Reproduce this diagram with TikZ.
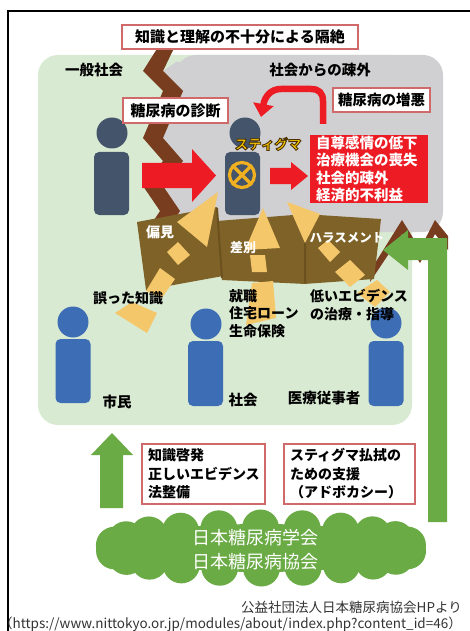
\documentclass[tikz,border=0pt]{standalone}
\usepackage{fontspec}
\setmainfont{Noto Sans CJK JP}
\usetikzlibrary{arrows.meta}

\definecolor{panelgreen}{HTML}{D9EAD3}
\definecolor{panelgray}{HTML}{D0D0D2}
\definecolor{zigbrown}{HTML}{783C1E}
\definecolor{wallbrown}{HTML}{7E6228}
\definecolor{walldark}{HTML}{6A511E}
\definecolor{shard}{HTML}{F4C76B}
\definecolor{slate}{HTML}{44546A}
\definecolor{bluep}{HTML}{3D6DB5}
\definecolor{alarm}{HTML}{ED1C24}
\definecolor{boxedge}{HTML}{D06A6A}
\definecolor{leaf}{HTML}{6AAB46}
\definecolor{stig}{HTML}{F7C600}
\definecolor{ringorange}{HTML}{F0B020}
\definecolor{captiongray}{HTML}{333333}

% text filled with the current colour and edged in dark brown
\newcommand\strokedtext[1]{\special{pdf:literal direct 2 Tr 0.9 w 0.29 0.19 0 RG}#1\special{pdf:literal direct 0 Tr}}

\tikzset{
  lbl/.style={inner sep=0pt, font=\bfseries\fontsize{14}{17.5}\selectfont},
  walllbl/.style={inner sep=0pt, text=white, font=\bfseries\fontsize{13}{16}\selectfont},
  tagbox/.style={draw=boxedge, line width=1.1pt, fill=white, inner sep=0pt,
    font=\bfseries\fontsize{15}{18}\selectfont},
  notebox/.style={draw=boxedge, line width=1.1pt, fill=white, inner xsep=6pt,
    inner ysep=0pt, align=left, font=\bfseries\fontsize{14}{18.5}\selectfont},
  torso/.style={rounded corners=5pt, inner sep=0pt, minimum width=35pt, minimum height=63pt},
  headball/.style={circle, inner sep=0pt, minimum size=31pt},
  shardfill/.style={fill=shard},
  blockarrow/.style={fill=leaf},
}

\begin{document}
\begin{tikzpicture}[x=1pt,y=-1pt]
\useasboundingbox (0,0) rectangle (470,631);

% outer frame
\draw[line width=2.2pt] (472,11) -- (8,11) -- (8,633);

% panels
\fill[panelgreen, rounded corners=20pt] (38,55) rectangle (412,425);
\fill[panelgray, rounded corners=20pt] (176,55) rectangle (443,232);
\fill[panelgray] (163,71) -- (176,62) -- (190,62) -- (190,228) -- (165,228) -- (170,211)
  -- (153,186) -- (173,161) -- (153,138) -- (173,91) -- cycle;

% vertical rupture line
\fill[zigbrown] (160,44) -- (143,71) -- (163,91) -- (143,138) -- (163,161) -- (143,186)
  -- (160,211) -- (150,226) -- (170,226) -- (180,211) -- (163,186) -- (183,161)
  -- (163,138) -- (183,91) -- (163,71) -- (176,44) -- cycle;

% horizontal rupture line
\fill[zigbrown] (448,236) -- (435,220) -- (420,249) -- (402,220) -- (372,268)
  -- (370,282) -- (402,234) -- (420,263) -- (435,234) -- (448,250) -- cycle;

% people in the alienated area
\node[headball, fill=slate] (p1head) at (112,133) {};
\node[torso, fill=slate] (p1body) at (111.5,183.5) {};
\node[headball, fill=slate] (p2head) at (245,133) {};
\node[torso, fill=slate] (p2body) at (242.5,183.5) {};
\node[circle, draw=ringorange, line width=3.2pt, minimum size=25pt, inner sep=0pt] (ring) at (242,175) {};
\draw[ringorange, line width=3.2pt] (ring.45) -- (ring.225) (ring.135) -- (ring.315);

% red arrows
\fill[alarm] (142,163) -- (192,163) -- (192,149) -- (216,175.5) -- (192,202) -- (192,188)
  -- (142,188) -- cycle;
\fill[alarm] (270,168) -- (291,168) -- (291,162) -- (308,176) -- (291,190) -- (291,184)
  -- (270,184) -- cycle;
\draw[alarm, line width=6.5pt, -{Triangle[length=13pt,width=20pt]}]
  (323,124) -- (323,101) .. controls (323,93) and (319,89) .. (311,89) -- (281,89)
  .. controls (271,89) and (265,96) .. (261,117);

% labelled boxes
\node[tagbox, minimum width=236pt, minimum height=24pt] (isolation) at (240,37) {知識と理解の不十分による隔絶};
\node[tagbox, minimum width=105pt, minimum height=25pt] (diagnosis) at (175.5,110.5) {糖尿病の診断};
\node[tagbox, minimum width=97pt, minimum height=24pt, font=\bfseries\fontsize{14.5}{18}\selectfont] (worsening) at (381.5,100) {糖尿病の増悪};
\node[fill=alarm, minimum width=118pt, minimum height=68pt, text width=106pt, inner xsep=6pt,
  inner ysep=0pt, align=left, text=white, font=\bfseries\fontsize{14.5}{17.6}\selectfont]
  (harm) at (369,169) {自尊感情の低下\\治療機会の喪失\\社会的疎外\\経済的不利益};

% panel titles
\node[lbl, font=\bfseries\fontsize{14.5}{17}\selectfont] (general) at (94,70) {一般社会};
\node[lbl, font=\bfseries\fontsize{14.5}{17}\selectfont] (alienated) at (320,70) {社会からの疎外};

% stigma label with dark edge
\node[inner sep=0pt, text=stig, font=\bfseries\fontsize{13.5}{16}\selectfont] (stigma) at (268,144) {\strokedtext{スティグマ}};

% the wall of prejudice, discrimination and harassment
\fill[wallbrown] (137,222) -- (217,207) -- (223,276) -- (146,290) -- cycle;
\fill[wallbrown] (217,221) -- (306,214) -- (306,284) -- (222,280) -- cycle;
\fill[wallbrown] (303,214) -- (381,219) -- (374,279) -- (304,284) -- cycle;
\draw[walldark, line width=2pt] (217,208) -- (222,278) (305,215) -- (305,283);

% shards
\fill[shardfill] (218,192) -- (177,222) -- (207,247) -- cycle;
\fill[shardfill] (167,252) -- (178,242) -- (190,255) -- (178,265) -- cycle;
\fill[shardfill] (146,291) -- (160,268) -- (175,279) -- (162,298) -- cycle;
\fill[shardfill] (115,313) -- (132,302) -- (157,313) -- (147,333) -- cycle;
\fill[shardfill] (263,208) -- (245,250) -- (280,248) -- cycle;
\fill[shardfill] (250,255) -- (265,255) -- (267,272) -- (252,272) -- cycle;
\fill[shardfill] (252,283) -- (273,281) -- (276,318) -- (246,325) -- cycle;
\fill[shardfill] (287,202) -- (320,214) -- (305,243) -- cycle;
\fill[shardfill] (318,248) -- (328,240) -- (340,252) -- (330,262) -- cycle;
\fill[shardfill] (335,272) -- (350,260) -- (365,275) -- (350,287) -- cycle;
\fill[shardfill] (357,293) -- (377,280) -- (390,292) -- (375,307) -- cycle;

\node[walllbl, font=\bfseries\fontsize{14}{16}\selectfont] (prejudice) at (160,232) {偏見};
\node[walllbl] (discrimination) at (243,248) {差別};
\node[walllbl, font=\bfseries\fontsize{12.5}{16}\selectfont] (harassment) at (347,238) {ハラスメント};

% people in general society
\node[headball, fill=bluep] (p3head) at (73,322) {};
\node[torso, fill=bluep, minimum height=64pt] (p3body) at (73,371) {};
\node[headball, fill=bluep] (p4head) at (206,324) {};
\node[torso, fill=bluep, minimum height=65pt] (p4body) at (205.5,373.5) {};
\node[headball, fill=bluep] (p5head) at (386,323) {};
\node[torso, fill=bluep, minimum height=65pt] (p5body) at (386,373.5) {};

\node[lbl] (misinfo) at (128,298) {誤った知識};
\node[lbl, anchor=west, align=left, font=\bfseries\fontsize{14}{17.5}\selectfont] (finance) at (229,313.5) {就職\\住宅ローン\\生命保険};
\node[lbl, anchor=west, align=left, font=\bfseries\fontsize{14}{18}\selectfont] (care) at (310,305) {低いエビデンス\\の治療・指導};
\node[lbl, font=\bfseries\fontsize{14.5}{17}\selectfont] (citizens) at (117,402) {市民};
\node[lbl, font=\bfseries\fontsize{14.5}{17}\selectfont] (society) at (243,400) {社会};
\node[lbl, font=\bfseries\fontsize{14.5}{17}\selectfont] (staff) at (324,398) {医療従事者};

% green arrows
\fill[blockarrow] (100,508) -- (100,455) -- (91,455) -- (112,433) -- (133,455) -- (123,455)
  -- (123,508) -- cycle;
\fill[blockarrow] (447,522) -- (447,238) -- (408,238) -- (408,230) -- (383,250) -- (408,270)
  -- (408,260) -- (428,260) -- (428,522) -- cycle;

% measures
\node[notebox, minimum width=123pt, minimum height=60pt, text width=111pt] (education) at (203.5,474) {知識啓発\\正しいエビデンス\\法整備};
\node[notebox, minimum width=131pt, minimum height=60pt, text width=119pt] (advocacy) at (349.5,474) {スティグマ払拭の\\ための支援\\（アドボカシー）};

% organisations: a cloud built from a core ellipse and a ring of puffs
\fill[leaf] (261,548) ellipse [x radius=150pt, y radius=24pt];
\foreach \k in {0,...,21}
  \fill[leaf] ({261+148*cos(\k*360/22+8)},{548+20*sin(\k*360/22+8)}) circle [radius=18.5pt];
\node[text=white, align=center, inner sep=0pt, font=\fontsize{18}{24}\selectfont] (jds) at (255,550) {日本糖尿病学会\\日本糖尿病協会};

% source
\node[anchor=east, inner sep=0pt, text=captiongray, font=\fontsize{13.5}{16}\selectfont] (source) at (462,607) {公益社団法人日本糖尿病協会HPより};
\node[anchor=east, inner sep=0pt, text=captiongray, font=\fontsize{13.5}{16}\selectfont] (url) at (462,624) {（https://www.nittokyo.or.jp/modules/about/index.php?content\_id=46）};
\end{tikzpicture}
\end{document}
